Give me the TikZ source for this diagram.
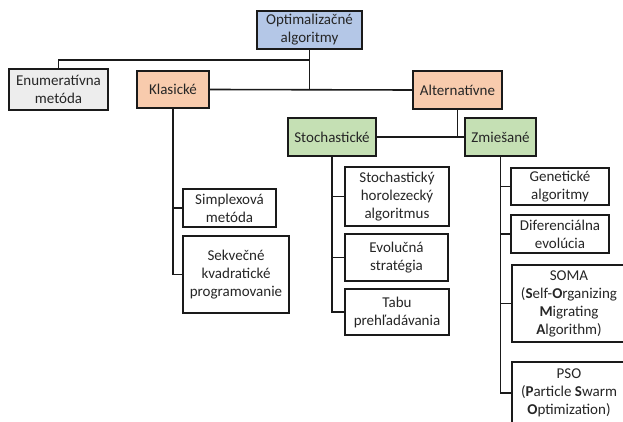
\documentclass[tikz,border=0pt]{standalone}
\usepackage{fontspec}
\setmainfont{Carlito}
\definecolor{cblue}{HTML}{B4C7E7}
\definecolor{cgray}{HTML}{EDEDED}
\definecolor{cpeach}{HTML}{F8CBAD}
\definecolor{cgreen}{HTML}{C5E0B4}
\definecolor{cline}{HTML}{1A1A1A}
\definecolor{ctext}{HTML}{262626}
\begin{document}
\begin{tikzpicture}[x=1pt,y=-1pt,
  box/.style={draw=cline,line width=1.6pt,rectangle,inner sep=0pt,align=center,
    text=ctext,font=\fontsize{15}{18}\selectfont},
  conn/.style={draw=cline,line width=1.6pt}]
\useasboundingbox (0,0) rectangle (623,422);
\clip (0,0) rectangle (623,422);
\fill[white] (0,0) rectangle (623,422);
% nodes
\node[box,fill=cblue,minimum width=105pt,minimum height=38pt] (opt) at (309.5,30) {Optimalizačné\\algoritmy};
\node[box,fill=cgray,minimum width=99pt,minimum height=41pt] (enum) at (58.5,89.5) {Enumeratívna\\metóda};
\node[box,fill=cpeach,minimum width=72pt,minimum height=37pt] (klas) at (173,89.5) {Klasické};
\node[box,fill=cpeach,minimum width=89pt,minimum height=38pt] (alt) at (457.5,90) {Alternatívne};
\node[box,fill=cgreen,minimum width=88pt,minimum height=38pt] (stoch) at (332,137) {Stochastické};
\node[box,fill=cgreen,minimum width=71pt,minimum height=38pt] (zmie) at (500.5,137) {Zmiešané};
\node[box,fill=white,minimum width=93pt,minimum height=38pt] (simplex) at (229.5,208) {Simplexová\\metóda};
\node[box,fill=white,minimum width=106pt,minimum height=77pt] (sekv) at (236,274.5) {Sekvečné\\kvadratické\\programovanie};
\node[box,fill=white,minimum width=104pt,minimum height=59pt] (shc) at (397,196.5) {Stochastický\\horolezecký\\algoritmus};
\node[box,fill=white,minimum width=103pt,minimum height=47pt] (evol) at (396.5,257.5) {Evolučná\\stratégia};
\node[box,fill=white,minimum width=104pt,minimum height=46pt] (tabu) at (397,312) {Tabu\\prehľadávania};
\node[box,fill=white,minimum width=98pt,minimum height=37pt] (gen) at (560,186.5) {Genetické\\algoritmy};
\node[box,fill=white,minimum width=98pt,minimum height=38pt] (dif) at (560,234) {Diferenciálna\\evolúcia};
\node[box,fill=white,minimum width=114pt,minimum height=77pt] (soma) at (569,303.5) {SOMA\\(\textbf{S}elf-\textbf{O}rganizing\\\textbf{M}igrating\\\textbf{A}lgorithm)};
\node[box,fill=white,minimum width=114pt,minimum height=62pt] (pso) at (569,393) {PSO\\(\textbf{P}article \textbf{S}warm\\\textbf{O}ptimization)};
% connectors
\coordinate (j1) at (309.5,60);
\draw[conn] (opt.south) -- (opt.south |- klas.east);
\draw[conn] (j1) -| (enum.north);
\draw[conn] (klas.east) -- (alt.west);
\draw[conn] (alt.south) -- (alt.south |- stoch.east);
\draw[conn] (stoch.east) -- (zmie.west);
\draw[conn] (klas.south) |- (sekv.west);
\draw[conn] (klas.south |- simplex.west) -- (simplex.west);
\draw[conn] (stoch.south) |- (tabu.west);
\draw[conn] (stoch.south |- shc.west) -- (shc.west);
\draw[conn] (stoch.south |- evol.west) -- (evol.west);
\draw[conn] (zmie.south) |- (pso.west);
\draw[conn] (zmie.south |- gen.west) -- (gen.west);
\draw[conn] (zmie.south |- dif.west) -- (dif.west);
\draw[conn] (zmie.south |- soma.west) -- (soma.west);
\end{tikzpicture}
\end{document}
